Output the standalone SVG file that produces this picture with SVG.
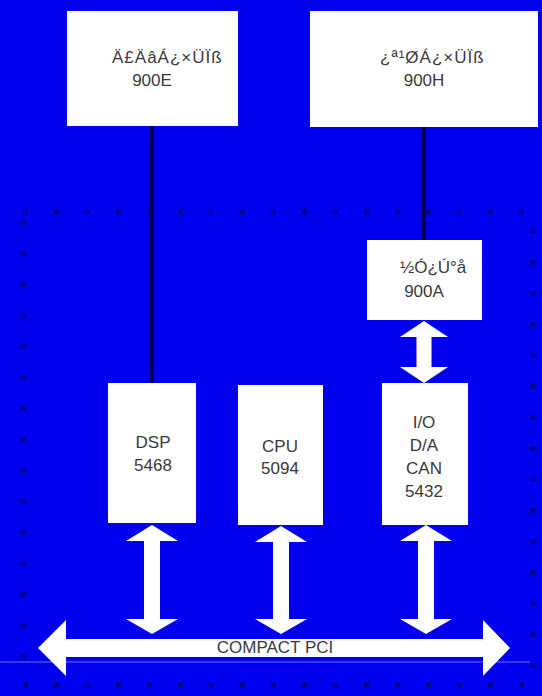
<svg xmlns="http://www.w3.org/2000/svg" width="542" height="696" viewBox="0 0 542 696">
<style>
.box{fill:#ffffff;}
.t{font-family:"Liberation Sans",Arial,sans-serif;font-size:17px;fill:#3a3a3a;}
.c{text-anchor:middle;}
.arr{fill:#ffffff;}
.wire{stroke:#000050;stroke-width:4;fill:none;}
</style>
<rect width="542" height="696" fill="#0000ee"/>
<rect x="23" y="212" width="510" height="473" fill="none" stroke="#000090" stroke-width="5" stroke-dasharray="5 26"/>
<line x1="0" y1="662" x2="530" y2="662" stroke="#4a4aff" stroke-width="1.5"/>
<g id="connectors">
<line class="wire" x1="152" y1="125" x2="152" y2="384"/>
<line class="wire" x1="424" y1="126" x2="424" y2="241"/>
<polygon class="arr" points="424,321 448,337 431.5,337 431.5,367 448,367 424,383 400,367 416.5,367 416.5,337 400,337"/>
<polygon class="arr" points="152,525 178,541 160,541 160,619 178,619 152,634 126,619 144,619 144,541 126,541"/>
<polygon class="arr" points="281,526 307,542 289,542 289,619 307,619 281,634 255,619 273,619 273,542 255,542"/>
<polygon class="arr" points="426,525 452,541 434,541 434,619 452,619 426,634 400,619 418,619 418,541 400,541"/>
<polygon class="arr" points="38,648 66,620 66,639 483,639 483,620 510,648 483,676 483,657 66,657 66,676"/>
<text class="t c" x="275" y="653" font-size="14">COMPACT PCI</text>
</g>
<g id="node-analog">
<rect class="box" x="67" y="11" width="171" height="115"/>
<text class="t" x="112" y="63" font-size="18" letter-spacing="1">Ä£ÄâÁ¿×ÜÏß</text>
<text class="t c" x="152" y="86" font-size="18">900E</text>
</g>
<g id="node-switch">
<rect class="box" x="310" y="11" width="228" height="116"/>
<text class="t" x="380" y="63" font-size="18" letter-spacing="1">¿ª¹ØÁ¿×ÜÏß</text>
<text class="t c" x="424" y="86" font-size="18">900H</text>
</g>
<g id="node-interface">
<rect class="box" x="367" y="240" width="115" height="80"/>
<text class="t" x="400" y="273" font-size="18">½Ó¿Ú°å</text>
<text class="t c" x="424" y="297" font-size="18">900A</text>
</g>
<g id="node-dsp">
<rect class="box" x="108" y="383" width="88" height="140"/>
<text class="t c" x="153" y="448" font-size="18">DSP</text>
<text class="t c" x="153" y="471" font-size="18">5468</text>
</g>
<g id="node-cpu">
<rect class="box" x="238" y="385" width="85" height="140"/>
<text class="t c" x="280" y="452" font-size="18">CPU</text>
<text class="t c" x="280" y="474" font-size="18">5094</text>
</g>
<g id="node-io">
<rect class="box" x="382" y="383" width="86" height="142"/>
<text class="t c" x="424" y="428" font-size="18">I/O</text>
<text class="t c" x="424" y="451" font-size="18">D/A</text>
<text class="t c" x="424" y="474" font-size="18">CAN</text>
<text class="t c" x="424" y="497" font-size="18">5432</text>
</g>
</svg>
